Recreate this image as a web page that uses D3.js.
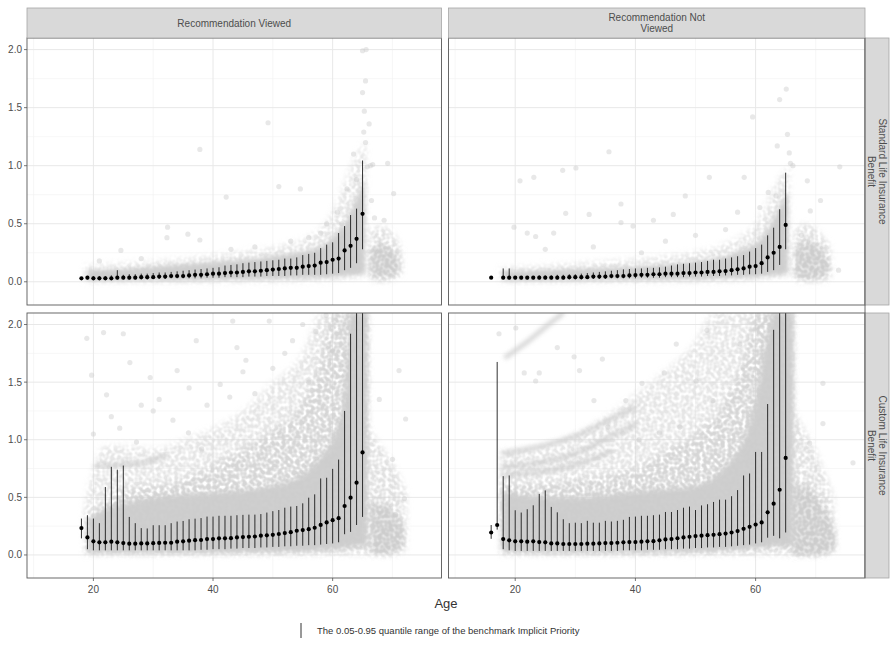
<!DOCTYPE html>
<html>
<head>
<meta charset="utf-8">
<script src="https://cdn.jsdelivr.net/npm/d3@7"></script>
<style>
  body { margin: 0; background: #fff; }
  svg text { font-family: "Liberation Sans", Arial, sans-serif; }
</style>
</head>
<body>
<svg id="chart" width="890" height="650"></svg>
<script>

// ---------- facet labels ----------
var colLabels = [["Recommendation Viewed"], ["Recommendation Not", "Viewed"]];
var rowLabels = [["Standard Life Insurance", "Benefit"], ["Custom Life Insurance", "Benefit"]];

var xTicks = [20, 40, 60];
var xMinor = [10, 30, 50, 70];
var yTicks = [0, 0.5, 1, 1.5, 2];
var yMinor = [0.25, 0.75, 1.25, 1.75];

// ---------- benchmark quantile bars (median, 0.05, 0.95) ----------
// top-left: Standard benefit, recommendation viewed
var tlAge = [18,19,20,21,22,23,24,25,26,27,28,29,30,31,32,33,34,35,36,37,38,39,40,41,42,43,44,45,46,47,48,49,50,51,52,53,54,55,56,57,58,59,60,61,62,63,64,65];
var tlMed = [0.03,0.035,0.03,0.03,0.03,0.03,0.035,0.035,0.035,0.035,
             0.04,0.04,0.04,0.045,0.045,0.05,0.05,0.05,0.055,0.06,
             0.06,0.065,0.07,0.07,0.075,0.08,0.08,0.085,0.09,0.09,
             0.095,0.1,0.105,0.11,0.115,0.12,0.12,0.13,0.135,0.14,
             0.165,0.17,0.19,0.2,0.27,0.31,0.37,0.585];
var tlHi  = [0.04,0.05,0.05,0.05,0.05,0.055,0.1,0.06,0.065,0.065,
             0.07,0.07,0.075,0.08,0.08,0.085,0.09,0.095,0.1,0.105,
             0.11,0.115,0.12,0.125,0.14,0.145,0.15,0.16,0.165,0.17,
             0.175,0.18,0.185,0.19,0.2,0.2,0.21,0.23,0.24,0.25,
             0.29,0.32,0.34,0.42,0.48,0.575,0.63,1.045];
var tlLo  = [0.02,0.02,0.02,0.02,0.02,0.02,0.02,0.02,0.02,0.02,
             0.02,0.02,0.025,0.025,0.025,0.03,0.03,0.03,0.03,0.03,
             0.03,0.035,0.035,0.035,0.04,0.04,0.04,0.04,0.045,0.045,
             0.045,0.05,0.05,0.05,0.05,0.055,0.055,0.06,0.06,0.06,
             0.06,0.065,0.07,0.075,0.1,0.12,0.16,0.28];

// top-right: Standard benefit, recommendation not viewed
var trAge = [16,18,19,20,21,22,23,24,25,26,27,28,29,30,31,32,33,34,35,36,37,38,39,40,41,42,43,44,45,46,47,48,49,50,51,52,53,54,55,56,57,58,59,60,61,62,63,64,65];
var trMed = [0.035,
             0.035,0.035,0.035,0.035,0.035,0.035,0.035,0.035,0.035,0.035,
             0.035,0.04,0.04,0.04,0.04,0.045,0.045,0.045,0.05,0.05,
             0.05,0.055,0.058,0.06,0.06,0.065,0.065,0.07,0.07,0.07,
             0.075,0.075,0.08,0.08,0.085,0.085,0.09,0.092,0.1,0.107,
             0.115,0.13,0.135,0.16,0.21,0.25,0.3,0.49];
var trHi  = [0.04,
             0.115,0.115,0.05,0.05,0.05,0.05,0.055,0.055,0.055,0.06,
             0.06,0.065,0.065,0.07,0.075,0.08,0.085,0.09,0.095,0.1,
             0.107,0.11,0.115,0.115,0.12,0.12,0.124,0.13,0.14,0.15,
             0.155,0.16,0.165,0.17,0.18,0.19,0.19,0.2,0.21,0.22,
             0.23,0.26,0.29,0.32,0.4,0.466,0.625,0.94];
var trLo  = [0.03,
             0.02,0.02,0.02,0.02,0.02,0.02,0.02,0.02,0.02,0.02,
             0.02,0.02,0.02,0.02,0.025,0.025,0.025,0.025,0.03,0.03,
             0.03,0.03,0.03,0.035,0.035,0.035,0.035,0.04,0.04,0.04,
             0.04,0.045,0.045,0.045,0.05,0.05,0.05,0.055,0.055,0.06,
             0.06,0.065,0.065,0.07,0.085,0.1,0.145,0.28];

// bottom-left: Custom benefit, recommendation viewed
var blAge = tlAge;
var blMed = [0.233,0.152,0.118,0.11,0.11,0.115,0.11,0.103,0.098,0.098,
             0.1,0.1,0.102,0.104,0.106,0.106,0.115,0.118,0.124,0.128,
             0.13,0.138,0.138,0.144,0.144,0.146,0.152,0.155,0.158,0.16,
             0.167,0.17,0.175,0.182,0.19,0.198,0.21,0.216,0.224,0.236,
             0.261,0.282,0.302,0.319,0.425,0.497,0.627,0.89];
var blHi  = [0.316,0.345,0.316,0.276,0.59,0.765,0.74,0.776,0.33,0.276,
             0.233,0.23,0.258,0.258,0.258,0.276,0.29,0.295,0.31,0.315,
             0.32,0.333,0.333,0.34,0.34,0.34,0.345,0.348,0.35,0.35,
             0.355,0.368,0.38,0.39,0.41,0.42,0.425,0.448,0.497,0.526,
             0.664,0.67,0.747,0.828,1.25,1.92,3,3];
var blLo  = [0.144,0.05,0.04,0.04,0.04,0.04,0.04,0.04,0.04,0.04,
             0.04,0.04,0.04,0.04,0.04,0.04,0.04,0.04,0.04,0.04,
             0.045,0.045,0.05,0.05,0.05,0.055,0.055,0.06,0.06,0.06,
             0.065,0.065,0.07,0.07,0.075,0.075,0.08,0.08,0.085,0.085,
             0.09,0.095,0.1,0.11,0.18,0.2,0.26,0.33];

// bottom-right: Custom benefit, recommendation not viewed
var brAge = [16,17,18,19,20,21,22,23,24,25,26,27,28,29,30,31,32,33,34,35,36,37,38,39,40,41,42,43,44,45,46,47,48,49,50,51,52,53,54,55,56,57,58,59,60,61,62,63,64,65];
var brMed = [0.195,0.26,
             0.138,0.127,0.118,0.118,0.115,0.118,0.112,0.11,0.1,0.1,
             0.095,0.095,0.095,0.095,0.098,0.098,0.1,0.103,0.103,0.106,
             0.11,0.112,0.112,0.115,0.118,0.12,0.127,0.135,0.138,0.145,
             0.152,0.158,0.164,0.167,0.172,0.175,0.18,0.186,0.195,0.207,
             0.227,0.244,0.264,0.282,0.37,0.445,0.566,0.842];
var brHi  = [0.26,1.675,
             0.684,0.69,0.388,0.368,0.397,0.431,0.53,0.56,0.417,0.37,
             0.31,0.276,0.28,0.276,0.296,0.28,0.28,0.296,0.29,0.296,
             0.305,0.33,0.333,0.34,0.34,0.345,0.35,0.373,0.373,0.39,
             0.41,0.42,0.39,0.43,0.44,0.46,0.48,0.48,0.51,0.563,
             0.69,0.707,0.894,0.894,1.31,1.954,3,3];
var brLo  = [0.14,0.22,
             0.05,0.04,0.035,0.035,0.035,0.035,0.035,0.035,0.035,0.035,
             0.035,0.035,0.035,0.035,0.035,0.035,0.035,0.035,0.035,0.035,
             0.04,0.04,0.04,0.04,0.045,0.045,0.045,0.05,0.05,0.05,
             0.055,0.055,0.06,0.06,0.065,0.065,0.07,0.07,0.075,0.08,
             0.085,0.09,0.1,0.11,0.15,0.166,0.144,0.195];

// ---------- individual implicit priorities (grey cloud) ----------
// bands read as [age, lower edge, upper edge]
var tlHaze = [[18.5,0,0.14],[25,0,0.16],[35,0,0.2],[45,0,0.26],[52,0,0.32],[57,0.01,0.42],[60,0.02,0.6],[62,0.03,0.85],[64,0.04,1.1],[65.6,0.05,1.2]];
var tlCore = [[19,0.01,0.1],[25,0.01,0.11],[30,0.01,0.13],[40,0.015,0.17],[45,0.02,0.19],[50,0.025,0.22],[55,0.03,0.26],[58,0.035,0.3],[60,0.04,0.38],[62,0.05,0.5],[63,0.055,0.6],[64,0.06,0.72],[65.4,0.07,0.88]];
var tlRetireHaze = [[66.2,0.02,0.45],[68,0,0.48],[70,0.02,0.42],[71.5,0.05,0.3]];
var tlRetire = [[66.3,0.08,0.26],[67.5,0.04,0.32],[69,0.04,0.3],[70.3,0.06,0.26],[71.2,0.1,0.18]];

var trHaze = [[17.5,0,0.12],[25,0,0.14],[35,0,0.18],[45,0,0.22],[52,0,0.28],[57,0.01,0.38],[60,0.02,0.5],[62,0.03,0.7],[64,0.04,0.9],[65.6,0.05,1.0]];
var trCore = [[18,0.01,0.09],[25,0.01,0.1],[30,0.01,0.11],[40,0.015,0.13],[50,0.02,0.18],[55,0.03,0.22],[58,0.035,0.28],[60,0.04,0.33],[62,0.05,0.45],[63,0.055,0.55],[64,0.06,0.65],[65.4,0.07,0.78]];
var trRetireHaze = [[66.4,0.02,0.42],[68,0,0.5],[70,0,0.46],[72.5,0.03,0.3]];
var trRetire = [[66.6,0.05,0.26],[68,0.03,0.34],[70,0.03,0.32],[71.5,0.05,0.24],[72.3,0.09,0.14]];

var blHaze = [[18.5,0,0.4],[20,0,0.75],[22,0,0.95],[26,0,0.95],[30,0,0.92],[35,0,1.0],[40,0,1.1],[45,0,1.25],[50,0,1.5],[55,0,1.75],[58,0,2.1],[66,0,2.1]];
var blMid  = [[19,0.02,0.34],[22,0.02,0.45],[26,0.02,0.58],[30,0.02,0.6],[35,0.02,0.66],[40,0.02,0.78],[45,0.02,0.92],[50,0.02,1.08],[55,0.03,1.32],[58,0.03,1.7],[60,0.04,2.1],[65.8,0.05,2.1]];
var blCore = [[19,0.02,0.3],[22,0.02,0.4],[26,0.02,0.46],[30,0.02,0.5],[40,0.02,0.54],[50,0.03,0.6],[55,0.03,0.7],[58,0.04,0.85],[60,0.05,1.0],[62,0.06,1.4],[63,0.07,2.1],[65.8,0.08,2.1]];
var blRetireHaze = [[66,0,1.1],[68,0,0.95],[70,0,0.8],[72.3,0.05,0.55]];
var blRetire = [[66.3,0.03,0.42],[68,0.01,0.45],[70,0.02,0.38],[71.8,0.08,0.25]];

var brHaze = [[17.5,0,0.9],[25,0,0.95],[30,0,1.05],[35,0,1.2],[40,0,1.4],[45,0,1.6],[50,0,1.85],[53,0,2.1],[66.2,0,2.1]];
var brMid  = [[17.8,0.03,0.6],[25,0.02,0.62],[30,0.02,0.65],[40,0.02,0.75],[45,0.02,0.9],[50,0.02,1.05],[55,0.03,1.35],[58,0.03,1.7],[60,0.04,2.1],[66.2,0.05,2.1]];
var brCore = [[17.8,0.03,0.55],[25,0.02,0.5],[30,0.02,0.5],[40,0.02,0.55],[50,0.03,0.6],[55,0.04,0.77],[58,0.05,1.0],[60,0.06,1.34],[62,0.07,1.92],[63,0.08,2.1],[66.3,0.08,2.1]];
var brRetireHaze = [[66.2,0,1.25],[68,0,1.1],[70,0,0.9],[73,0.05,0.5]];
var brRetire = [[66.2,0,0.6],[68,0,0.6],[70,0,0.5],[72,0.02,0.35],[73.2,0.05,0.2]];

// streaks of points (same product, rising with age)
var blStreaks = [[[20.5,0.77],[25,0.785],[29,0.81],[32,0.87]]];
var brStreaks = [
  [[18,0.69],[24,0.72],[30,0.78],[36,0.9]],
  [[18,0.76],[24,0.8],[30,0.88],[36,1.03],[40,1.13]],
  [[18,0.88],[24,0.94],[30,1.03],[36,1.18],[40,1.28]],
  [[18.5,1.72],[22,1.85],[26,2.02],[28,2.1]]
];

// isolated points [age, value]
var tlDots = [[65,1.99],[65.6,2.0],[65.5,1.73],[65,1.63],[65.3,1.47],[65.2,1.29],[66.1,1.36],[65.5,1.2],[49.2,1.37],[37.8,1.14],[42.2,0.73],[51,0.82],[54.6,0.8],[32.4,0.47],[37.8,0.36],[35.8,0.41],[63.5,1.1],[64,0.88],[70.2,0.76],[68.6,0.53],[58,0.42],[60.8,0.6],[62.4,0.8],[24.6,0.27],[32.3,0.38],[69.2,1.02],[66.7,1.01],[65.8,0.99],[66.3,1.0],[61.5,0.5],[59,0.5],[56,0.38],[47,0.3],[43,0.28],[28,0.2],[21,0.18],[53,0.35],[64.5,0.62],[66.5,0.7],[67,0.55]];
var trDots = [[65.1,1.66],[64,1.57],[59.5,1.42],[65.3,1.27],[63.6,1.17],[65.6,1.11],[74,0.99],[66.2,1.0],[65.8,1.02],[35.6,1.12],[27.9,0.96],[30.1,0.98],[23.1,0.9],[20.8,0.87],[52.3,0.9],[58.1,0.9],[48.3,0.74],[28.4,0.59],[32.3,0.58],[37.6,0.67],[37.6,0.51],[39.6,0.48],[19.8,0.47],[22,0.42],[23.4,0.39],[26.4,0.42],[43,0.53],[46.3,0.58],[68.6,0.87],[70.8,0.7],[69.1,0.61],[73.8,0.1],[67.6,0.4],[60.7,0.64],[62.1,0.77],[63.4,0.74],[45,0.35],[50,0.4],[55,0.45],[57,0.6],[33,0.3],[41,0.25],[25,0.28]];
var blDots = [[21.7,1.93],[25,1.92],[18.9,1.88],[26.1,1.67],[22.2,1.39],[19.7,1.56],[33.3,1.17],[30,1.25],[37.2,1.86],[45,1.59],[45.5,1.69],[50,1.62],[49.4,2.03],[43.3,2.03],[42.8,1.37],[41.2,1.48],[29.5,1.54],[71.1,1.6],[67.8,1.35],[70,0.83],[72.2,1.18],[72,0.49],[70.5,0.35],[24.4,1.1],[27.2,0.98],[35.9,1.06],[38.1,0.92],[53.3,1.86],[57.2,1.94],[58.9,2.08],[60,1.77],[31,1.35],[34,1.6],[39,1.3],[47,1.4],[52,1.75],[55,2.0],[23,1.2],[20,1.05],[28,1.3],[36,1.45],[44,1.8],[56,1.5]];
var brDots = [[34.5,1.7],[46.8,1.83],[50.1,1.51],[44.8,1.58],[24,1.58],[23.4,1.51],[21.5,1.58],[30.7,1.6],[38.4,1.34],[41.1,1.49],[40.6,1.0],[71.2,1.49],[71.2,1.14],[76.2,0.8],[69,0.97],[57.9,1.63],[57.4,1.83],[60.2,1.98],[51.9,1.95],[20.1,1.97],[17.3,1.92],[27,1.8],[29.8,1.72],[33.1,1.34],[35.4,1.11],[44,1.06],[47.4,1.11],[52.9,1.34]];

// ---------- layout ----------
var colX = [[27, 441.5], [448.5, 865]];
var rowY = [[38, 305], [313, 578]];
var ageDomain = [8.9, 78.2];
var valDomain = [-0.2, 2.1];

var panels = [
  {r: 0, c: 0, age: tlAge, med: tlMed, hi: tlHi, lo: tlLo, bands: [tlHaze, null, tlCore], retire: [tlRetireHaze, tlRetire], streaks: [], dots: tlDots},
  {r: 0, c: 1, age: trAge, med: trMed, hi: trHi, lo: trLo, bands: [trHaze, null, trCore], retire: [trRetireHaze, trRetire], streaks: [], dots: trDots},
  {r: 1, c: 0, age: blAge, med: blMed, hi: blHi, lo: blLo, bands: [blHaze, blMid, blCore], retire: [blRetireHaze, blRetire], streaks: blStreaks, dots: blDots},
  {r: 1, c: 1, age: brAge, med: brMed, hi: brHi, lo: brLo, bands: [brHaze, brMid, brCore], retire: [brRetireHaze, brRetire], streaks: brStreaks, dots: brDots}
];

var svg = d3.select("#chart");
var defs = svg.append("defs");

// soft edge for dense areas
defs.append("filter").attr("id", "soft")
  .attr("x", "-20%").attr("y", "-20%").attr("width", "140%").attr("height", "140%")
  .append("feGaussianBlur").attr("stdDeviation", 2.2);

// speckled look for sparse areas (many overlapping translucent points)
var speckle = defs.append("filter").attr("id", "speckle")
  .attr("x", "-20%").attr("y", "-20%").attr("width", "140%").attr("height", "140%");
speckle.append("feGaussianBlur").attr("in", "SourceGraphic").attr("stdDeviation", 3).attr("result", "blur");
speckle.append("feTurbulence").attr("type", "fractalNoise").attr("baseFrequency", 0.28)
  .attr("numOctaves", 1).attr("seed", 3).attr("result", "noise");
speckle.append("feColorMatrix").attr("in", "noise").attr("type", "matrix")
  .attr("values", "0 0 0 0 0  0 0 0 0 0  0 0 0 0 0  3 0 0 0 -0.9").attr("result", "mask");
speckle.append("feComposite").attr("in", "blur").attr("in2", "mask").attr("operator", "in");

var bandFill = ["#d6d6d6", "#d2d2d2", "#cdcdcd"];
var bandOpacity = [0.6, 0.8, 0.95];
var bandFilter = ["url(#speckle)", "url(#speckle)", "url(#soft)"];

panels.forEach(function(p, i) {
  var x = d3.scaleLinear().domain(ageDomain).range(colX[p.c]);
  var y = d3.scaleLinear().domain(valDomain).range([rowY[p.r][1], rowY[p.r][0]]);
  var x0 = colX[p.c][0], x1 = colX[p.c][1], y0 = rowY[p.r][0], y1 = rowY[p.r][1];

  defs.append("clipPath").attr("id", "clip" + i)
    .append("rect").attr("x", x0).attr("y", y0).attr("width", x1 - x0).attr("height", y1 - y0);

  var g = svg.append("g");

  // grid
  g.selectAll(".xminor").data(xMinor).enter().append("line")
    .attr("x1", x).attr("x2", x).attr("y1", y0).attr("y2", y1)
    .attr("stroke", "#f2f2f2").attr("stroke-width", 0.6);
  g.selectAll(".yminor").data(yMinor).enter().append("line")
    .attr("x1", x0).attr("x2", x1).attr("y1", y).attr("y2", y)
    .attr("stroke", "#f2f2f2").attr("stroke-width", 0.6);
  g.selectAll(".xmajor").data(xTicks).enter().append("line")
    .attr("x1", x).attr("x2", x).attr("y1", y0).attr("y2", y1)
    .attr("stroke", "#e8e8e8").attr("stroke-width", 1);
  g.selectAll(".ymajor").data(yTicks).enter().append("line")
    .attr("x1", x0).attr("x2", x1).attr("y1", y).attr("y2", y)
    .attr("stroke", "#e8e8e8").attr("stroke-width", 1);

  var plot = g.append("g").attr("clip-path", "url(#clip" + i + ")");

  var area = d3.area()
    .x(function(d) { return x(d[0]); })
    .y0(function(d) { return y(d[1]); })
    .y1(function(d) { return y(d[2]); })
    .curve(d3.curveMonotoneX);

  // grey cloud
  p.bands.forEach(function(b, k) {
    if (!b) return;
    plot.append("path").datum(b).attr("d", area)
      .attr("fill", bandFill[k]).attr("opacity", bandOpacity[k])
      .attr("filter", bandFilter[k]);
  });
  // cluster of retired ages
  p.retire.forEach(function(b, k) {
    plot.append("path").datum(b).attr("d", area)
      .attr("fill", k ? "#cbcbcb" : "#d4d4d4").attr("opacity", k ? 1 : 0.7)
      .attr("filter", "url(#speckle)");
  });
  plot.append("path").datum(p.retire[1]).attr("d", area)
    .attr("fill", "#d0d0d0").attr("opacity", 0.55).attr("filter", "url(#soft)");

  var line = d3.line()
    .x(function(d) { return x(d[0]); })
    .y(function(d) { return y(d[1]); })
    .curve(d3.curveMonotoneX);
  p.streaks.forEach(function(s) {
    plot.append("path").datum(s).attr("d", line)
      .attr("fill", "none").attr("stroke", "#cbcbcb").attr("stroke-width", 4.5)
      .attr("stroke-linecap", "round").attr("stroke-dasharray", "3 1.5").attr("opacity", 0.8)
      .attr("filter", "url(#soft)");
  });

  plot.selectAll(".dot").data(p.dots).enter().append("circle")
    .attr("cx", function(d) { return x(d[0]); })
    .attr("cy", function(d) { return y(d[1]); })
    .attr("r", 2.6).attr("fill", "#cccccc").attr("opacity", 0.45);

  // quantile bars and medians
  plot.selectAll(".bar").data(p.age).enter().append("line")
    .attr("x1", function(d) { return x(d); })
    .attr("x2", function(d) { return x(d); })
    .attr("y1", function(d, j) { return y(p.lo[j]); })
    .attr("y2", function(d, j) { return y(p.hi[j]); })
    .attr("stroke", "#1a1a1a").attr("stroke-width", 0.9);
  plot.selectAll(".med").data(p.age).enter().append("circle")
    .attr("cx", function(d) { return x(d); })
    .attr("cy", function(d, j) { return y(p.med[j]); })
    .attr("r", 2.1).attr("fill", "#000");

  // panel border
  g.append("rect").attr("x", x0).attr("y", y0).attr("width", x1 - x0).attr("height", y1 - y0)
    .attr("fill", "none").attr("stroke", "#595959").attr("stroke-width", 0.9);

  // y axis on left column
  if (p.c === 0) {
    var ya = g.append("g");
    yTicks.forEach(function(t) {
      ya.append("line").attr("x1", x0 - 3).attr("x2", x0).attr("y1", y(t)).attr("y2", y(t))
        .attr("stroke", "#555").attr("stroke-width", 0.8);
      ya.append("text").attr("x", x0 - 5).attr("y", y(t)).attr("dy", "0.35em")
        .attr("text-anchor", "end").attr("font-size", 10).attr("fill", "#4d4d4d")
        .text(d3.format(".1f")(t));
    });
  }
  // x axis on bottom row
  if (p.r === 1) {
    var xa = g.append("g");
    xTicks.forEach(function(t) {
      xa.append("line").attr("x1", x(t)).attr("x2", x(t)).attr("y1", y1).attr("y2", y1 + 3)
        .attr("stroke", "#555").attr("stroke-width", 0.8);
      xa.append("text").attr("x", x(t)).attr("y", y1 + 15)
        .attr("text-anchor", "middle").attr("font-size", 10).attr("fill", "#4d4d4d")
        .text(t);
    });
  }
});

// column strips
colX.forEach(function(cx, c) {
  svg.append("rect").attr("x", cx[0]).attr("y", 8).attr("width", cx[1] - cx[0]).attr("height", 30)
    .attr("fill", "#d9d9d9").attr("stroke", "#a6a6a6").attr("stroke-width", 0.8);
  var lines = colLabels[c];
  var mid = (cx[0] + cx[1]) / 2;
  lines.forEach(function(t, k) {
    svg.append("text").attr("x", mid)
      .attr("y", 23 + (k - (lines.length - 1) / 2) * 11).attr("dy", "0.35em")
      .attr("text-anchor", "middle").attr("font-size", 10).attr("fill", "#4d4d4d")
      .text(t);
  });
});

// row strips
rowY.forEach(function(ry, r) {
  svg.append("rect").attr("x", 865).attr("y", ry[0]).attr("width", 24).attr("height", ry[1] - ry[0])
    .attr("fill", "#d9d9d9").attr("stroke", "#a6a6a6").attr("stroke-width", 0.8);
  var lines = rowLabels[r];
  var mid = (ry[0] + ry[1]) / 2;
  var tg = svg.append("g").attr("transform", "translate(877," + mid + ") rotate(90)");
  lines.forEach(function(t, k) {
    tg.append("text").attr("x", 0)
      .attr("y", (k - (lines.length - 1) / 2) * 11).attr("dy", "0.35em")
      .attr("text-anchor", "middle").attr("font-size", 10).attr("fill", "#4d4d4d")
      .text(t);
  });
});

// panel edges next to strips
svg.append("line").attr("x1", 865).attr("x2", 865).attr("y1", 38).attr("y2", 578)
  .attr("stroke", "#595959").attr("stroke-width", 0.9);

// axis title
svg.append("text").attr("x", 446).attr("y", 608).attr("text-anchor", "middle")
  .attr("font-size", 13).attr("fill", "#333").text("Age");

// legend
svg.append("line").attr("x1", 301).attr("x2", 301).attr("y1", 623).attr("y2", 638)
  .attr("stroke", "#333").attr("stroke-width", 1);
svg.append("text").attr("x", 317).attr("y", 631).attr("dy", "0.35em")
  .attr("font-size", 9.5).attr("fill", "#333")
  .text("The 0.05-0.95 quantile range of the benchmark Implicit Priority");

</script>
</body>
</html>
